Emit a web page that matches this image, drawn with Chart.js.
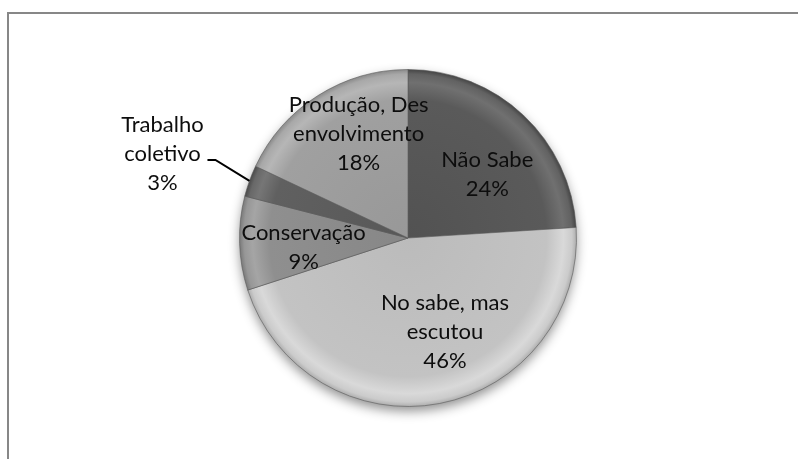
<!DOCTYPE html>
<html><head><meta charset="utf-8">
<script src="https://cdn.jsdelivr.net/npm/chart.js@4/dist/chart.umd.min.js"></script>
<style>
html,body{margin:0;padding:0;background:#fff;overflow:hidden}
#wrap{position:absolute;left:0;top:0;width:798px;height:459px;overflow:hidden}
#frame{position:absolute;left:7px;top:12px;width:820px;height:480px;border:2px solid #878787;box-sizing:border-box}
#c{position:absolute;left:0;top:0}
</style></head><body>
<div id="wrap"><div id="frame"></div><canvas id="c" width="798" height="459"></canvas></div>
<script>
// ---- data ----
const categories = ["Não Sabe", "No sabe, mas escutou", "Conservação", "Trabalho coletivo", "Produção, Des envolvimento"];
const labelLines = [["Não Sabe"], ["No sabe, mas", "escutou"], ["Conservação"], ["Trabalho", "coletivo"], ["Produção, Des", "envolvimento"]];
const values = [24, 46, 9, 3, 18];
const percentLabels = ["24%", "46%", "9%", "3%", "18%"];

// ---- styles ----
const baseColors = ["#5a5a5a", "#c3c3c3", "#8f8f8f", "#606060", "#a0a0a0"];
const labelRadius = [0.6, 0.6, 0.62, 1.0, 0.68];
const labelShift = [[10, 10], [18, -5], [0, 6], [0, 0], [12, -7]];
const FONT = '22px Lato';
const LINE_H = 29;

function shade(hex, amt) {
  const n = parseInt(hex.slice(1), 16);
  let r = (n >> 16) & 255, g = (n >> 8) & 255, b = n & 255;
  r = Math.max(0, Math.min(255, r + amt));
  g = Math.max(0, Math.min(255, g + amt));
  b = Math.max(0, Math.min(255, b + amt));
  return `rgb(${r},${g},${b})`;
}

function geom(chart) {
  const ca = chart.chartArea;
  return { cx: (ca.left + ca.right) / 2, cy: (ca.top + ca.bottom) / 2, r: Math.min(ca.right - ca.left, ca.bottom - ca.top) / 2 };
}

function sliceFill(ctx) {
  const chart = ctx.chart;
  const base = baseColors[ctx.dataIndex];
  if (!chart.chartArea) return base;
  const g = geom(chart);
  const grad = chart.ctx.createRadialGradient(g.cx, g.cy, 0, g.cx, g.cy, g.r);
  grad.addColorStop(0, shade(base, -8));
  grad.addColorStop(0.82, base);
  grad.addColorStop(0.92, shade(base, 22));
  grad.addColorStop(0.97, shade(base, 8));
  grad.addColorStop(1, shade(base, -25));
  return grad;
}

const shadowPlugin = {
  id: 'pieShadow',
  beforeDatasetsDraw(chart) {
    const g = geom(chart);
    const ctx = chart.ctx;
    ctx.save();
    ctx.shadowColor = 'rgba(0,0,0,0.45)';
    ctx.shadowBlur = 12;
    ctx.shadowOffsetY = 5;
    ctx.fillStyle = '#888';
    ctx.beginPath();
    ctx.arc(g.cx, g.cy, g.r - 1, 0, Math.PI * 2);
    ctx.fill();
    ctx.restore();
  }
};

const labelPlugin = {
  id: 'sliceLabels',
  afterDatasetsDraw(chart) {
    const ctx = chart.ctx;
    const meta = chart.getDatasetMeta(0);
    ctx.save();
    ctx.font = FONT;
    ctx.fillStyle = '#0d0d0d';
    ctx.textAlign = 'center';
    ctx.textBaseline = 'middle';
    meta.data.forEach((arc, i) => {
      const p = arc.getProps(['x', 'y', 'startAngle', 'endAngle', 'outerRadius'], true);
      const mid = (p.startAngle + p.endAngle) / 2;
      const lines = labelLines[i].concat([percentLabels[i]]);
      let tx, ty;
      if (i === 3) {
        // outside label with leader line
        const ex = p.x + Math.cos(mid) * p.outerRadius;
        const ey = p.y + Math.sin(mid) * p.outerRadius;
        const bx = ex - 34, by = ey - 21;
        ctx.save();
        ctx.strokeStyle = '#000';
        ctx.lineWidth = 2;
        ctx.beginPath();
        ctx.moveTo(ex, ey);
        ctx.lineTo(bx, by);
        ctx.lineTo(bx - 8, by);
        ctx.stroke();
        ctx.restore();
        tx = bx - 53;
        ty = by - 6;
      } else {
        tx = p.x + Math.cos(mid) * p.outerRadius * labelRadius[i] + labelShift[i][0];
        ty = p.y + Math.sin(mid) * p.outerRadius * labelRadius[i] + labelShift[i][1];
      }
      const y0 = ty - (lines.length - 1) * LINE_H / 2;
      lines.forEach((l, k) => ctx.fillText(l, tx, y0 + k * LINE_H));
    });
    ctx.restore();
  }
};

new Chart(document.getElementById('c'), {
  type: 'pie',
  data: {
    labels: categories,
    datasets: [{
      data: values,
      backgroundColor: sliceFill,
      borderColor: 'rgba(90,90,90,0.6)',
      borderWidth: 1
    }]
  },
  options: {
    responsive: false,
    animation: false,
    layout: { padding: { top: 69, bottom: 52, left: 100, right: 82 } },
    plugins: { legend: { display: false }, tooltip: { enabled: false } }
  },
  plugins: [shadowPlugin, labelPlugin]
});
</script>
</body></html>
